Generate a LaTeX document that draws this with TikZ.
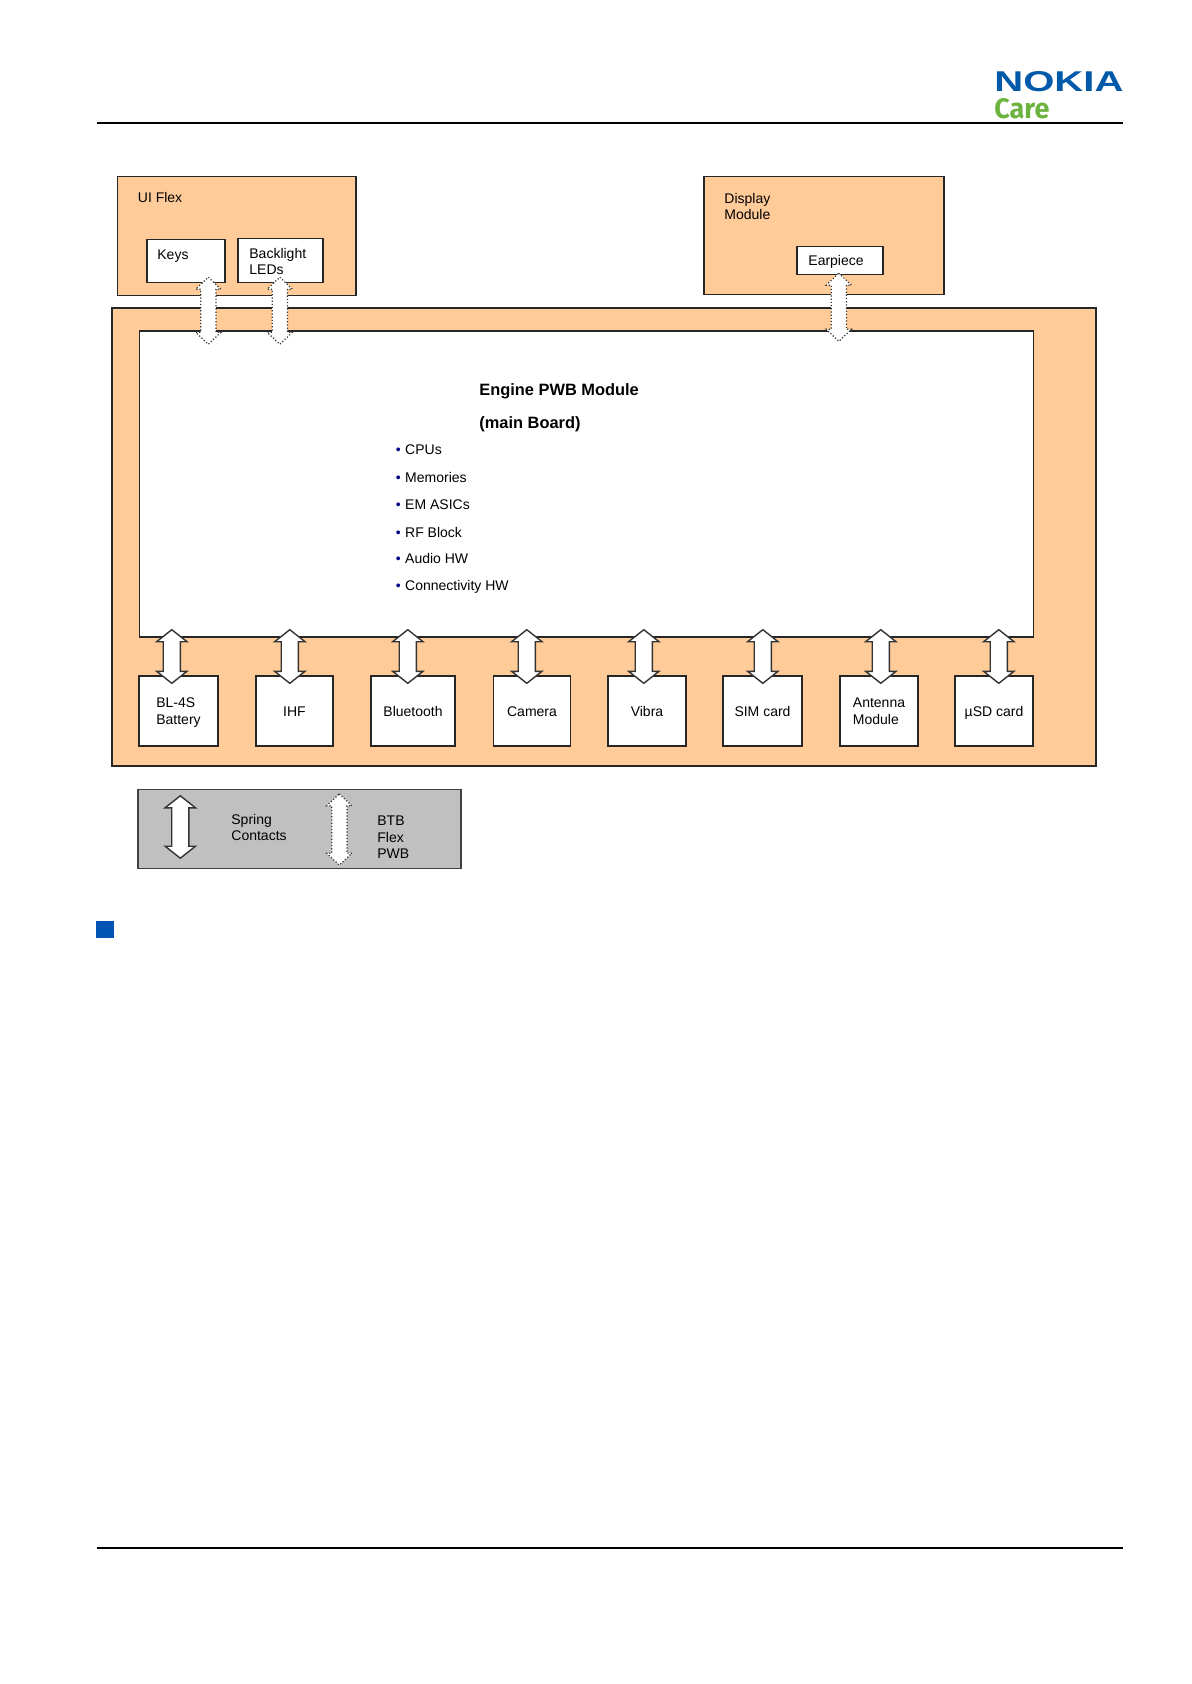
\documentclass[tikz,border=0pt]{standalone}
\usepackage{graphicx}
\usepackage{fontspec}
\setmainfont{Liberation Sans}
\newfontfamily\carefont{Fira Sans}
\usetikzlibrary{calc}
\definecolor{peach}{HTML}{FFCC99}
\definecolor{legendgrey}{HTML}{C0C0C0}
\definecolor{nokiablue}{HTML}{005AA9}
\definecolor{careGreen}{HTML}{6CB33F}
\definecolor{squareblue}{HTML}{0054B4}
\definecolor{bulletblue}{HTML}{000080}
\newcommand{\boarditem}[1]{{\color{bulletblue}\scriptsize\textbullet}\hspace{2.2pt}#1}
\tikzset{
  peachbox/.style={draw=black!85, line width=0.7pt, fill=peach, inner sep=0pt},
  whitebox/.style={draw=black!85, line width=0.7pt, fill=white, inner sep=0pt, align=left,
    text height=6pt, text depth=1pt, font=\fontsize{7}{8.3}\selectfont},
  greybox/.style={draw=black!75, line width=0.7pt, fill=legendgrey, inner sep=0pt},
  textlabel/.style={anchor=west, inner sep=0pt, align=left, text height=6pt, text depth=1pt,
    font=\fontsize{7}{8.2}\selectfont},
  twolines/.style={text height=14.3pt},
  threelines/.style={text height=22.5pt},
  titlelabel/.style={anchor=west, inner sep=0pt, text height=7pt, text depth=1.1pt,
    font=\fontsize{8.2}{10}\selectfont\bfseries},
  pagerule/.style={line width=1pt},
  blockarrow/.style 2 args={fill=white, draw=black!80, to path={
    let \p1=(\tikztostart), \p2=(\tikztotarget) in
    (\x1,\y1) -- (\x1+#1,\y1-6pt) -- (\x1+#2,\y1-6pt) -- (\x1+#2,\y2+6pt)
    -- (\x1+#1,\y2+6pt) -- (\x2,\y2) -- (\x1-#1,\y2+6pt) -- (\x1-#2,\y2+6pt)
    -- (\x1-#2,\y1-6pt) -- (\x1-#1,\y1-6pt) -- cycle}},
  springlink/.style={blockarrow={7.6pt}{4.3pt}, line width=0.7pt},
  flexlink/.style={blockarrow={6.3pt}{3.8pt}, line width=0.6pt, densely dotted}
}
\begin{document}
\begin{tikzpicture}[x=0.5pt,y=-0.5pt]
      \useasboundingbox (0,0) rectangle (1191,1684);
      \coordinate (headerleft) at (96.5,122.7);
      \coordinate (headerright) at (1123,122.7);
      \coordinate (footerleft) at (96.5,1548);
      \coordinate (footerright) at (1123,1548);
      \draw[pagerule] (headerleft) -- (headerright);
      \draw[pagerule] (footerleft) -- (footerright);
      \node[anchor=north west, inner sep=0pt, text=nokiablue] (nokia) at (994,71)
        {\resizebox{64.5pt}{10pt}{\bfseries NOKIA}};
      \node[anchor=north west, inner sep=0pt, text=careGreen] (care) at (994,98)
        {\resizebox{27.5pt}{10pt}{\carefont\bfseries Care}};

      \node[peachbox, minimum width=119.25pt, minimum height=59.5pt] (uiflex) at (236.75,236) {};
      \node[peachbox, minimum width=120pt, minimum height=59pt] (display) at (824,235.5) {};
      \node[peachbox, minimum width=492pt, minimum height=229pt] (mainmodule) at (604,537) {};
      \node[whitebox, minimum width=447pt, minimum height=153pt] (board) at (586.5,484) {};
      \node[whitebox, minimum width=39pt, minimum height=21.5pt] (keys) at (186,261) {};
      \node[whitebox, minimum width=42.5pt, minimum height=22pt] (leds) at (280.5,260.5) {};
      \node[whitebox, minimum width=43pt, minimum height=14pt] (earpiece) at (840,260.5) {};
      \node[whitebox, twolines, minimum width=39.5pt, minimum height=35pt] (battery) at (178.5,711) {BL-4S\\Battery};
      \node[whitebox, minimum width=38.5pt, minimum height=35pt] (ihf) at (294.5,711) {IHF};
      \node[whitebox, minimum width=42pt, minimum height=35pt] (bluetooth) at (413,711) {Bluetooth};
      \node[whitebox, minimum width=38.5pt, minimum height=35pt] (camera) at (532,711) {Camera};
      \node[whitebox, minimum width=39pt, minimum height=35pt] (vibra) at (647,711) {Vibra};
      \node[whitebox, minimum width=39.5pt, minimum height=35pt] (sim) at (762.5,711) {SIM card};
      \node[whitebox, twolines, minimum width=39pt, minimum height=35pt] (antenna) at (879,711) {Antenna\\Module};
      \node[whitebox, minimum width=39pt, minimum height=35pt] (usd) at (994,711) {µSD card};
      \node[greybox, minimum width=161.5pt, minimum height=39.5pt] (legend) at (299.5,829) {};
      \node[fill=squareblue, inner sep=0pt, minimum width=9pt, minimum height=8.5pt] (square) at (105,929.5) {};

      \node[textlabel] (uiflexlabel) at (137.5,197.5) {UI Flex};
      \node[textlabel, twolines] (displaylabel) at (724,206.5) {Display\\Module};
      \node[textlabel] (keyslabel) at (157,255) {Keys};
      \node[textlabel, twolines] (ledslabel) at (249,261.5) {Backlight\\LEDs};
      \node[textlabel] (earpiecelabel) at (808,261) {Earpiece};
      \node[titlelabel] (enginetitle) at (479,390) {Engine PWB Module};
      \node[titlelabel] (boardtitle) at (479,423) {(main Board)};
      \node[textlabel] (cpus) at (395.5,449) {\boarditem{CPUs}};
      \node[textlabel] (memories) at (395.5,477) {\boarditem{Memories}};
      \node[textlabel] (asics) at (395.5,504) {\boarditem{EM ASICs}};
      \node[textlabel] (rfblock) at (395.5,532) {\boarditem{RF Block}};
      \node[textlabel] (audiohw) at (395.5,558) {\boarditem{Audio HW}};
      \node[textlabel] (connhw) at (395.5,585) {\boarditem{Connectivity HW}};
      \node[textlabel, twolines] (springlabel) at (231,827.5) {Spring\\Contacts};
      \node[textlabel, threelines] (btblabel) at (377,837) {BTB\\Flex\\PWB};

      \begin{scope}
        \draw[flexlink] ([xshift=31pt,yshift=3pt]keys.south west) to ([xshift=34.75pt,yshift=-7pt]board.north west);
        \draw[flexlink] ([xshift=21.25pt,yshift=3pt]leds.south west) to ([xshift=70.5pt,yshift=-7pt]board.north west);
        \draw[flexlink] ([xshift=21.25pt,yshift=1pt]earpiece.south west) to ([xshift=350pt,yshift=-5.5pt]board.north west);
        \draw[springlink] ([xshift=16.5pt,yshift=4pt]board.south west) to ([xshift=16.75pt,yshift=-4pt]battery.north west);
        \draw[springlink] ([xshift=75.5pt,yshift=4pt]board.south west) to ([xshift=17.25pt,yshift=-4pt]ihf.north west);
        \draw[springlink] ([xshift=134.5pt,yshift=4pt]board.south west) to ([xshift=18.75pt,yshift=-4pt]bluetooth.north west);
        \draw[springlink] ([xshift=194pt,yshift=4pt]board.south west) to ([xshift=17pt,yshift=-4pt]camera.north west);
        \draw[springlink] ([xshift=252.5pt,yshift=4pt]board.south west) to ([xshift=18.25pt,yshift=-4pt]vibra.north west);
        \draw[springlink] ([xshift=312pt,yshift=4pt]board.south west) to ([xshift=20.25pt,yshift=-4pt]sim.north west);
        \draw[springlink] ([xshift=371pt,yshift=4pt]board.south west) to ([xshift=20.75pt,yshift=-4pt]antenna.north west);
        \draw[springlink] ([xshift=430pt,yshift=4pt]board.south west) to ([xshift=22.25pt,yshift=-4pt]usd.north west);
        \draw[springlink] ([xshift=21.5pt,yshift=-3.5pt]legend.north west) to ([xshift=21.5pt,yshift=5.5pt]legend.south west);
        \draw[flexlink] ([xshift=101pt,yshift=-2.5pt]legend.north west) to ([xshift=101pt,yshift=2pt]legend.south west);
      \end{scope}
    \end{tikzpicture}
\end{document}
